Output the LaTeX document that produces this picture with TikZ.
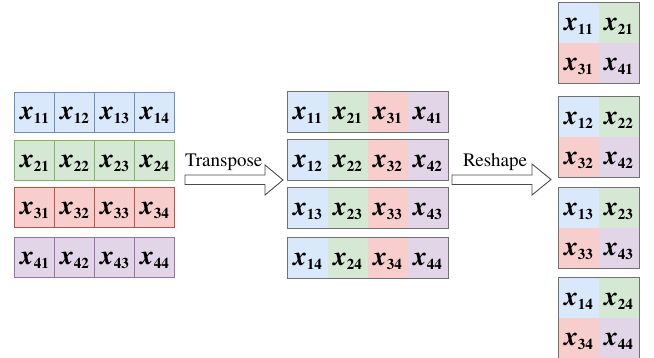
\documentclass[tikz,border=0pt]{standalone}
\usepackage{fontspec}
\setmainfont{texgyretermes}[Extension=.otf,UprightFont=*-regular,BoldFont=*-bold,ItalicFont=*-italic,BoldItalicFont=*-bolditalic]
\definecolor{bF}{HTML}{DAE8FC}\definecolor{bD}{HTML}{6C8EBF}
\definecolor{gF}{HTML}{D5E8D4}\definecolor{gD}{HTML}{82B366}
\definecolor{rF}{HTML}{F8CECC}\definecolor{rD}{HTML}{B85450}
\definecolor{pF}{HTML}{E1D5E7}\definecolor{pD}{HTML}{9673A6}
\definecolor{frame}{HTML}{707070}
\newcommand{\xv}[1]{{\fontsize{27}{27}\selectfont\bfseries\itshape x}\raisebox{-4.5pt}{\fontsize{15}{15}\selectfont\bfseries #1}}
\begin{document}
\begin{tikzpicture}[x=1pt,y=-1pt,
  cell/.style={minimum width=40pt,minimum height=40pt,inner sep=0pt,text height=14pt,text depth=0pt,anchor=north west,line width=1pt},
  outline/.style={draw=frame,line width=1pt},
  blockarrow/.style={draw=black!70,fill=white,line width=0.9pt,line join=miter},
  lab/.style={anchor=base west,inner sep=0pt,font=\fontsize{19}{19}\selectfont}]
\useasboundingbox (0,0) rectangle (654,358);
% left matrix
\foreach \r/\t/\f/\d in {1/92/bF/bD,2/140/gF/gD,3/187/rF/rD,4/237/pF/pD}{
  \foreach \c in {1,...,4}{
    \node[cell,fill=\f,draw=\d] (L\r\c) at ({14+40*(\c-1)},\t) {\xv{\r\c}};
  }
}
% middle rows
\foreach \r/\t in {1/92,2/140,3/188,4/238}{
  \foreach \c/\f in {1/bF,2/gF,3/rF,4/pF}{
    \node[cell,fill=\f] (M\r\c) at ({287+40*(\c-1)},\t) {\xv{\c\r}};
  }
  \draw[outline] (M\r1.north west) rectangle (M\r4.south east);
}
% right blocks
\foreach \b/\t in {1/3,2/97,3/188,4/278}{
  \node[cell,fill=bF] (R\b1) at (558,\t) {\xv{1\b}};
  \node[cell,fill=gF] (R\b2) at (598,\t) {\xv{2\b}};
  \node[cell,fill=rF] (R\b3) at (558,{\t+40}) {\xv{3\b}};
  \node[cell,fill=pF] (R\b4) at (598,{\t+40}) {\xv{4\b}};
  \draw[outline] (R\b1.north west) rectangle (R\b4.south east);
}
% arrows
\draw[blockarrow] (185,175) -- (265,175) -- (265,165) -- (283,180) -- (265,195) -- (265,184.5) -- (185,184.5) -- cycle;
\node[lab] (tlab) at (185,167) {Transpose};
\draw[blockarrow] (452,175) -- (532,175) -- (532,164) -- (551,179.5) -- (532,195) -- (532,184.5) -- (452,184.5) -- cycle;
\node[lab] (rlab) at (463,167) {Reshape};
\end{tikzpicture}
\end{document}
